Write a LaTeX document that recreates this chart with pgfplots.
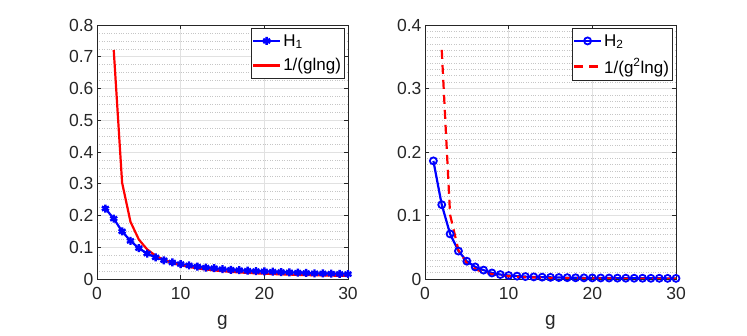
\documentclass[border=0pt]{standalone}
\usepackage{pgfplots}
\pgfplotsset{compat=1.18}
\usepackage{fontspec}
\setmainfont{Liberation Sans}
\definecolor{axgray}{RGB}{38,38,38}
\definecolor{gridgray}{RGB}{225,225,225}
\pgfplotsset{
  mstyle/.style={
    scale only axis, width=251pt, height=254pt,
    xmin=0, xmax=30, xtick={0,10,20,30},
    axis line style={axgray, line width=0.6pt},
    tick style={axgray, line width=0.6pt},
    major tick length=4pt, minor tick length=0pt,
    tick align=inside,
    xmajorgrids, ymajorgrids, yminorgrids,
    major grid style={gridgray, line width=0.6pt},
    minor grid style={gray!45, dotted, line width=0.6pt},
    ticklabel style={font=\fontsize{17.5}{19}\selectfont, text=axgray},
    xticklabel style={yshift=-5pt},
    label style={font=\fontsize{19}{21}\selectfont, text=axgray},
    /pgf/number format/assume math mode=true,
    xlabel={g},
    xlabel style={yshift=-9pt},
    legend style={at={(0.985,0.988)}, anchor=north east, draw=axgray, line width=0.6pt,
      font=\fontsize{17}{19}\selectfont, inner xsep=1pt, inner ysep=4pt, row sep=7pt,
      legend cell align=left},
    legend image code/.code={\draw[#1] (0pt,0pt) -- (27pt,0pt); \draw[#1, only marks] plot coordinates {(13.5pt,0pt)};},
  }
}
\begin{document}
\begin{tikzpicture}
\path[use as bounding box] (0,0) rectangle (747pt,336pt);
\begin{axis}[mstyle, at={(97pt,57pt)}, anchor=south west,
  ymin=0, ymax=0.8, ytick={0,0.1,...,0.8},
  yticklabels={0,0.1,0.2,0.3,0.4,0.5,0.6,0.7,0.8},
  minor y tick num=3]
\addplot[blue, line width=2.2pt, mark=asterisk, mark size=4pt, mark options={line width=2.4pt}] coordinates {
(1,0.222)(2,0.190)(3,0.150)(4,0.120)(5,0.097)(6,0.080)(7,0.068)(8,0.059)(9,0.052)(10,0.047)
(11,0.043)(12,0.039)(13,0.036)(14,0.034)(15,0.031)(16,0.029)(17,0.028)(18,0.026)(19,0.025)(20,0.024)
(21,0.023)(22,0.022)(23,0.021)(24,0.020)(25,0.019)(26,0.018)(27,0.0175)(28,0.017)(29,0.016)(30,0.0155)};
\addlegendentry{H\textsubscript{1}}
\addplot[red, line width=2.2pt] coordinates {
(2,0.7213)(3,0.3034)(4,0.1803)(5,0.1243)(6,0.0930)(7,0.0734)(8,0.0601)(9,0.0506)(10,0.0434)
(11,0.0379)(12,0.0335)(13,0.0300)(14,0.0271)(15,0.0246)(16,0.0225)(17,0.0208)(18,0.0192)(19,0.0179)(20,0.0167)
(21,0.0156)(22,0.0147)(23,0.0139)(24,0.0131)(25,0.0124)(26,0.0118)(27,0.0112)(28,0.0107)(29,0.0102)(30,0.0098)};
\addlegendentry{1/(glng)}
\end{axis}
\begin{axis}[mstyle, at={(425pt,57pt)}, anchor=south west,
  ymin=0, ymax=0.4, ytick={0,0.1,...,0.4},
  yticklabels={0,0.1,0.2,0.3,0.4},
  minor y tick num=9]
\addplot[blue, line width=2.2pt, mark=o, mark size=3.5pt, mark options={line width=1.8pt, solid}] coordinates {
(1,0.186)(2,0.117)(3,0.071)(4,0.044)(5,0.028)(6,0.019)(7,0.014)(8,0.0095)(9,0.007)(10,0.0055)
(11,0.0045)(12,0.0038)(13,0.0033)(14,0.0029)(15,0.0026)(16,0.0023)(17,0.0021)(18,0.0019)(19,0.0018)(20,0.0017)
(21,0.0016)(22,0.0015)(23,0.0014)(24,0.0013)(25,0.0012)(26,0.0012)(27,0.0011)(28,0.0011)(29,0.0010)(30,0.0010)};
\addlegendentry{H\textsubscript{2}}
\addplot[red, line width=2.2pt, dash pattern=on 9pt off 6pt] coordinates {
(2,0.3607)(3,0.1011)(4,0.0451)(5,0.0249)(6,0.0155)(7,0.01049)(8,0.00751)(9,0.00562)(10,0.00434)
(11,0.00345)(12,0.00279)(13,0.00231)(14,0.00193)(15,0.00164)(16,0.00141)(17,0.00122)(18,0.00107)(19,0.00094)(20,0.00083)
(21,0.000744)(22,0.000669)(23,0.000604)(24,0.000546)(25,0.000497)(26,0.000453)(27,0.000415)(28,0.000382)(29,0.000352)(30,0.000327)};
\addlegendentry{1/(g\textsuperscript{2}lng)}
\end{axis}
\end{tikzpicture}
\end{document}
